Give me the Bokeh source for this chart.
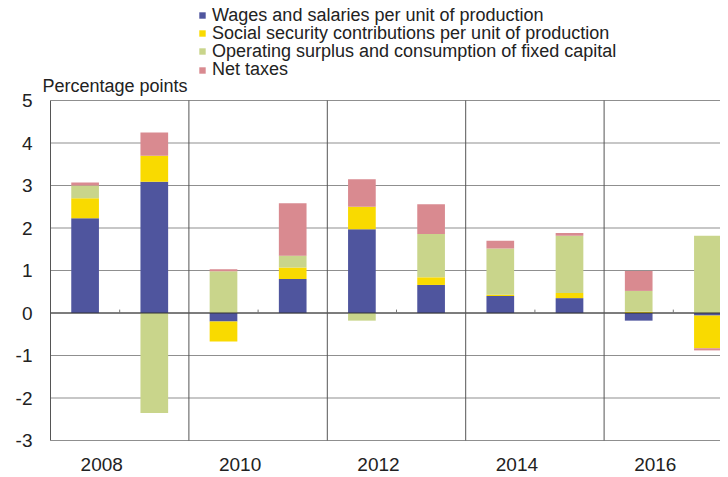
import numpy as np
from bokeh.plotting import figure
from bokeh.models import ColumnDataSource, Legend, LegendItem, Label
from bokeh.core.properties import value
from bokeh.embed import file_html
from bokeh.resources import INLINE

# ---- data ----
years = [2008, 2009, 2010, 2011, 2012, 2013, 2014, 2015, 2016, 2017]
wages = [2.23, 3.09, -0.20, 0.80, 1.97, 0.66, 0.40, 0.35, -0.18, -0.06]
social = [0.47, 0.61, -0.47, 0.27, 0.53, 0.18, 0.03, 0.12, 0.03, -0.77]
operating = [0.30, -2.35, 0.98, 0.28, -0.18, 1.02, 1.09, 1.35, 0.49, 1.82]
net_taxes = [0.07, 0.55, 0.05, 1.23, 0.65, 0.70, 0.18, 0.06, 0.47, -0.05]

series_names = [
    "Wages and salaries per unit of production",
    "Social security contributions per unit of production",
    "Operating surplus and consumption of fixed capital",
    "Net taxes",
]
series_values = [wages, social, operating, net_taxes]
series_colors = ["#4F559E", "#F9DA00", "#C9D58B", "#D98A90"]

label_years = [2008, 2010, 2012, 2014, 2016]
label_texts = ["2008", "2010", "2012", "2014", "2016"]
y_ticks = [-3, -2, -1, 0, 1, 2, 3, 4, 5]
y_tick_texts = ["-3", "-2", "-1", "0", "1", "2", "3", "4", "5"]

FONT = "Liberation Sans"
PX_PER_YEAR = 69.2
PX_PER_UNIT = 42.5
FRAME_W = 720
FRAME_H = 475
OX = 50          # pixel of the value area's left edge
BOTTOM_PX = 440  # pixel (from top) of the lowest gridline

y_lo, y_hi = y_ticks[0], y_ticks[-1]
x_lo = years[0] - 0.5
x_start = x_lo - OX / PX_PER_YEAR
x_end = x_start + FRAME_W / PX_PER_YEAR
y_start = y_lo - (FRAME_H - BOTTOM_PX) / PX_PER_UNIT
y_end = y_lo + BOTTOM_PX / PX_PER_UNIT

p = figure(
    frame_width=FRAME_W, frame_height=FRAME_H,
    x_range=(x_start, x_end), y_range=(y_start, y_end),
    output_backend="svg", toolbar_location=None,
    min_border_left=0, min_border_right=0, min_border_top=0, min_border_bottom=0,
)
p.outline_line_color = None
p.background_fill_color = "white"
p.xaxis.visible = False
p.yaxis.visible = False
p.xgrid.grid_line_color = None
p.ygrid.grid_line_color = None

# horizontal gridlines over the value area
p.segment(x0=[x_lo] * len(y_ticks), x1=[x_end] * len(y_ticks), y0=y_ticks, y1=y_ticks,
          line_color="#8f8f8f", line_width=1)

# stacked bars (positives up, negatives down)
pos_base = np.zeros(len(years))
neg_base = np.zeros(len(years))
renderers = []
for name, vals, col in zip(series_names, series_values, series_colors):
    v = np.array(vals, dtype=float)
    bottom = np.where(v >= 0, pos_base, neg_base)
    top = bottom + v
    pos_base = np.where(v >= 0, top, pos_base)
    neg_base = np.where(v < 0, top, neg_base)
    src = ColumnDataSource(dict(x=years, bottom=bottom, top=top))
    r = p.vbar(x="x", width=0.4, bottom="bottom", top="top", source=src,
               fill_color=col, line_color=None)
    renderers.append(r)

# zero line
p.segment(x0=[x_lo], x1=[x_end], y0=[0], y1=[0], line_color="#333333", line_width=1)

# small ticks on the zero line between paired years
tick_x = [y + 0.5 for y in label_years]
p.segment(x0=tick_x, x1=tick_x, y0=[0] * len(tick_x), y1=[0.08] * len(tick_x),
          line_color="#777777", line_width=1)

# left border and vertical separators (only across the value range)
sep_x = [x_lo] + [y + 1.5 for y in label_years[:-1]]
p.segment(x0=sep_x, x1=sep_x, y0=[y_lo] * len(sep_x), y1=[y_hi] * len(sep_x),
          line_color="#555555", line_width=1)

# y tick labels
p.text(x=[x_lo] * len(y_ticks), y=y_ticks, text=y_tick_texts, x_offset=-18,
       text_align="right", text_baseline="middle", text_font=value(FONT),
       text_font_size="19px", text_color="#222222")

# x labels (one per pair of years)
label_pos = [y + 0.24 for y in label_years]
p.text(x=label_pos, y=[y_lo] * len(label_pos), text=label_texts, y_offset=24,
       text_align="center", text_baseline="middle", text_font=value(FONT),
       text_font_size="19px", text_color="#222222")

# legend: one single-row legend per entry so the rows sit 18px apart
ROW_CENTERS = [15, 33, 51, 69.5]
for n, r, c in zip(series_names, renderers, ROW_CENTERS):
    lg = Legend(
        items=[LegendItem(label=n, renderers=[r])],
        location=(OX + 148, FRAME_H - (c + 10.5)), orientation="vertical",
        glyph_width=8, glyph_height=8, label_height=18, spacing=0, padding=0, margin=0,
        label_standoff=6, border_line_color=None, background_fill_alpha=0,
        label_text_font=FONT, label_text_font_size="18px", label_text_color="#222222",
    )
    p.add_layout(lg, "center")

p.add_layout(Label(x=OX - 8, y=FRAME_H - 85, x_units="screen", y_units="screen",
                   text="Percentage points", text_font=FONT, text_font_size="18px",
                   text_color="#222222", text_baseline="alphabetic"))

open("out.html", "w").write(file_html(p, INLINE))
